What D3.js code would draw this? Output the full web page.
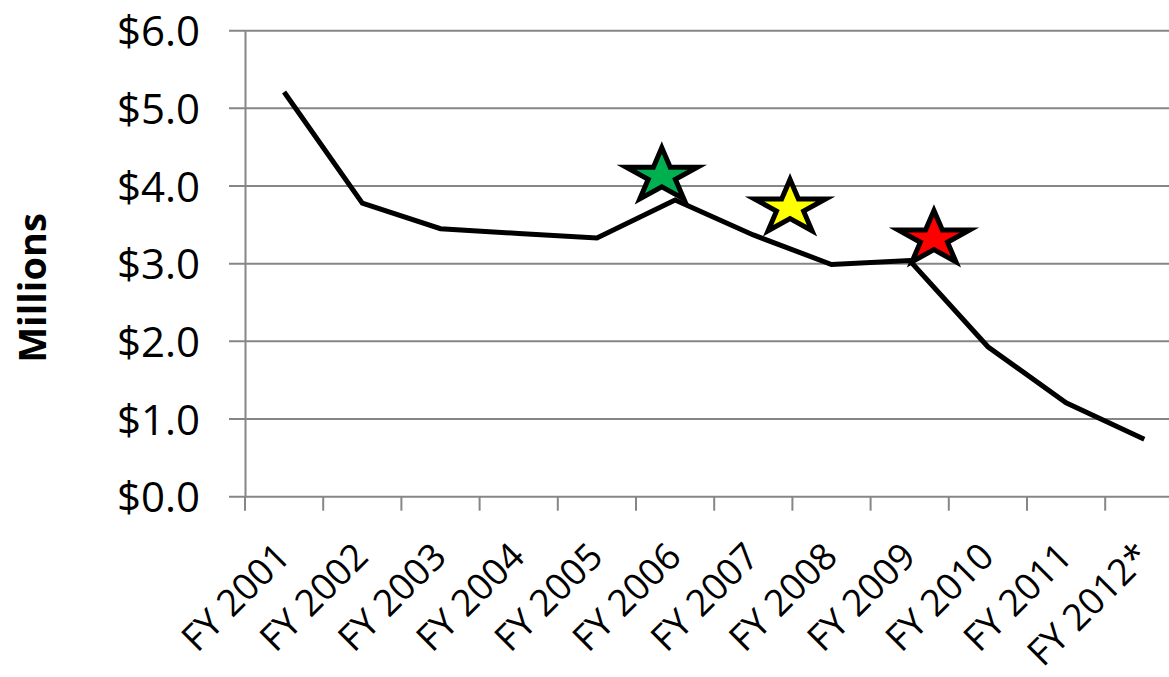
<!DOCTYPE html>
<html>
<head>
<meta charset="utf-8">
<script src="https://cdn.jsdelivr.net/npm/d3@7"></script>
<style>
  html, body { margin: 0; padding: 0; background: #fff; overflow: hidden; }
  text { font-family: "Open Sans", sans-serif; }
</style>
</head>
<body>
<div id="chart"></div>
<script>
// fiscal years on the x axis
var years = ["FY 2001", "FY 2002", "FY 2003", "FY 2004", "FY 2005", "FY 2006",
             "FY 2007", "FY 2008", "FY 2009", "FY 2010", "FY 2011", "FY 2012*"];
// amounts, millions of dollars
var amounts = [5.21, 3.78, 3.45, 3.39, 3.33, 3.82, 3.37, 2.99, 3.04, 1.93, 1.21, 0.74];
// y axis ticks
var yTicks = [0, 1, 2, 3, 4, 5, 6];

// star markers: position in category units (0 = FY 2001 centre) and value
var starPos = [4.83, 6.47, 8.31];
var starVal = [4.13, 3.72, 3.32];
var starFill = ["#00B050", "#FFFF00", "#FF0000"];

var W = 1169, H = 677;
var plotLeft = 245, plotTop = 30.7, plotBottom = 496.7, step = 78.2;

var svg = d3.select("#chart").append("svg")
  .attr("width", W)
  .attr("height", H);

var x = d3.scaleBand()
  .domain(years)
  .range([plotLeft, plotLeft + step * years.length])
  .paddingInner(0).paddingOuter(0);

// same thing as a linear scale, for the stars sitting between categories
var xi = d3.scaleLinear()
  .domain([-0.5, years.length - 0.5])
  .range([plotLeft, plotLeft + step * years.length]);

var y = d3.scaleLinear()
  .domain([0, 6])
  .range([plotBottom, plotTop]);

// gridlines
svg.append("g")
  .selectAll("line")
  .data(yTicks)
  .join("line")
  .attr("x1", plotLeft - 16)
  .attr("x2", W)
  .attr("y1", d => y(d))
  .attr("y2", d => y(d))
  .attr("stroke", "#868686")
  .attr("stroke-width", 2);

// y axis
var yAxis = svg.append("g")
  .attr("transform", "translate(" + plotLeft + ",0)")
  .call(d3.axisLeft(y).tickValues(yTicks).tickSize(0).tickPadding(45)
    .tickFormat(d => "$" + d3.format(".1f")(d)));
yAxis.select(".domain").attr("stroke", "#868686").attr("stroke-width", 2);
yAxis.selectAll("text")
  .attr("font-size", 42)
  .attr("font-family", "Open Sans, sans-serif")
  .attr("fill", "#000")
  .attr("dy", "0.36em");

// x axis, ticks on category boundaries
var xAxis = svg.append("g")
  .attr("transform", "translate(0," + plotBottom + ")");
xAxis.selectAll("line")
  .data(years)
  .join("line")
  .attr("x1", d => x(d))
  .attr("x2", d => x(d))
  .attr("y1", 0)
  .attr("y2", 14)
  .attr("stroke", "#868686")
  .attr("stroke-width", 2);

xAxis.selectAll("text")
  .data(years)
  .join("text")
  .attr("transform", d => "translate(" + (x(d) + x.bandwidth() / 2 + 8) + ",62) rotate(-45)")
  .attr("text-anchor", "end")
  .attr("font-size", 37)
  .attr("fill", "#000")
  .text(d => d);

// y title
svg.append("text")
  .attr("transform", "translate(46,288) rotate(-90)")
  .attr("text-anchor", "middle")
  .attr("font-size", 38)
  .attr("font-weight", "bold")
  .attr("fill", "#000")
  .text("Millions");

// the line
var line = d3.line()
  .x((d, i) => x(years[i]) + x.bandwidth() / 2)
  .y(d => y(d));

svg.append("path")
  .datum(amounts)
  .attr("d", line)
  .attr("fill", "none")
  .attr("stroke", "#000")
  .attr("stroke-width", 5)
  .attr("stroke-linejoin", "miter");

// stars
var star = d3.symbol(d3.symbolStar, 900);
svg.append("g")
  .selectAll("path")
  .data(starPos)
  .join("path")
  .attr("d", star)
  .attr("transform", (d, i) => "translate(" + xi(d) + "," + y(starVal[i]) + ") scale(1.32,1)")
  .attr("fill", (d, i) => starFill[i])
  .attr("stroke", "#000")
  .attr("stroke-width", 5)
  .attr("vector-effect", "non-scaling-stroke")
  .attr("stroke-linejoin", "miter")
  .attr("stroke-miterlimit", 10);
</script>
</body>
</html>
